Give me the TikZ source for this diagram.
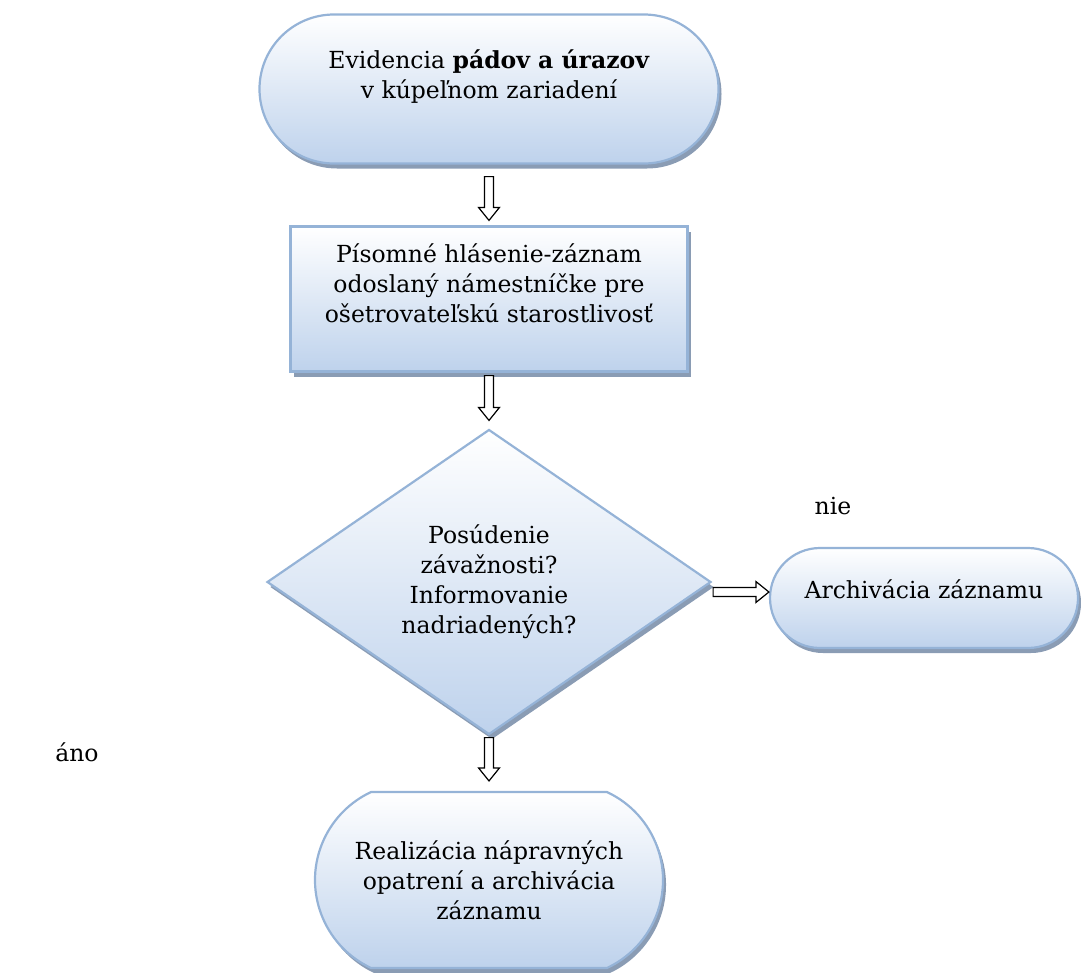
\documentclass[tikz,border=0pt]{standalone}
\usepackage{fontspec}
\setmainfont{DejaVu Serif}
\usetikzlibrary{shapes.geometric,shapes.misc,shadows,calc}
\definecolor{lineblue}{RGB}{149,179,215}
\definecolor{fillblue}{RGB}{190,210,236}
\definecolor{shadowblue}{RGB}{125,145,172}
\tikzset{
  box/.style={draw=lineblue, line width=2.2pt, top color=white, bottom color=fillblue,
    drop shadow={shadow xshift=3pt, shadow yshift=-5pt, shadow scale=1,
      fill=shadowblue, opacity=0.9},
    align=center, inner sep=0pt, font=\fontsize{23.5}{30}\selectfont},
  terminal/.style={box, rounded rectangle},
  process/.style={box, rectangle},
  decision/.style={box, diamond},
  note/.style={font=\fontsize{23.5}{30}\selectfont},
  blockarrow/.style={draw=black, fill=white, line width=1.2pt, line join=miter,
    to path={($(\tikztostart)!4.5pt!90:(\tikztotarget)$)
      -- ($(\tikztotarget)!13pt!(\tikztostart)!4.5pt!90:(\tikztotarget)$)
      -- ($(\tikztotarget)!13pt!(\tikztostart)!10.5pt!90:(\tikztotarget)$)
      -- (\tikztotarget)
      -- ($(\tikztotarget)!13pt!(\tikztostart)!10.5pt!-90:(\tikztotarget)$)
      -- ($(\tikztotarget)!13pt!(\tikztostart)!4.5pt!-90:(\tikztotarget)$)
      -- ($(\tikztostart)!4.5pt!-90:(\tikztotarget)$) -- cycle}}
}
\begin{document}
\begin{tikzpicture}[x=1pt, y=-1pt]
  \useasboundingbox (0,0) rectangle (1081,972);
  % Boxes of the flow
  \node[terminal, text depth=30pt, minimum width=459pt, minimum height=149pt] (evid) at (489,89)
    {Evidencia \textbf{pádov a úrazov}\\v kúpeľnom zariadení};
  \node[process, text depth=32pt, minimum width=397pt, minimum height=145pt] (hlas) at (489,299)
    {Písomné hlásenie-záznam\\odoslaný námestníčke pre\\ošetrovateľskú starostlivosť};
  \node[decision, minimum width=444pt, minimum height=305pt] (posud) at (489,582)
    {Posúdenie\\závažnosti?\\Informovanie\\nadriadených?};
  \node[terminal, text depth=18pt, minimum width=308pt, minimum height=100pt] (arch) at (924,598)
    {Archivácia záznamu};
  \node[terminal, rounded rectangle arc length=130, minimum width=348pt,
    minimum height=176pt] (real) at (489,880)
    {Realizácia nápravných\\opatrení a archivácia\\záznamu};
  % Answers
  \node[note] (nie) at (833,506) {nie};
  \node[note] (ano) at (77,752) {áno};
  % Block arrows
  \draw[blockarrow] ([yshift=-12pt]evid.south) to ([yshift=5pt]hlas.north);
  \draw[blockarrow] ([yshift=-3pt]hlas.south) to ([yshift=8pt]posud.north);
  \draw[blockarrow] ([yshift=-2pt]posud.south) to ([yshift=10pt]real.north);
  \draw[blockarrow] ([xshift=1pt,yshift=-10pt]posud.east) to ([yshift=6pt]arch.west);
\end{tikzpicture}
\end{document}
